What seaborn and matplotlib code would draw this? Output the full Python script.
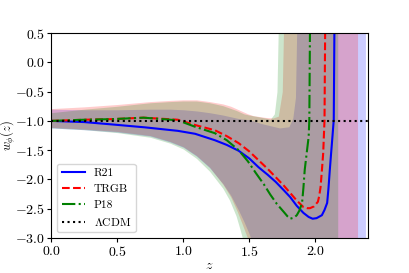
import matplotlib
matplotlib.use("Agg")
import matplotlib.pyplot as plt
import seaborn as sns

# --- bands (lower / upper edges of the reconstructed w_phi(z)) ---
z_band_r21 = [0.0, 0.25, 0.5, 0.75, 0.9, 1.0, 1.1, 1.2, 1.3, 1.36, 1.42, 1.46, 1.5, 1.54, 1.6, 1.73, 1.8, 1.83, 1.85, 1.86, 2.38]
lo_band_r21 = [-1.12, -1.15, -1.19, -1.26, -1.36, -1.45, -1.60, -1.80, -2.07, -2.27, -2.53, -2.72, -2.93, -3.2, -3.5, -3.5, -3.5, -3.5, -3.5, -3.5, -3.5]
hi_band_r21 = [-0.80, -0.81, -0.81, -0.80, -0.80, -0.81, -0.83, -0.86, -0.90, -0.93, -0.96, -0.97, -0.98, -1.01, -1.05, -1.12, -1.10, -0.95, -0.6, 0.6, 0.6]

z_band_trgb = [0.0, 0.25, 0.5, 0.75, 0.9, 1.0, 1.1, 1.2, 1.3, 1.36, 1.41, 1.45, 1.49, 1.53, 1.62, 1.68, 1.72, 1.75, 1.76, 2.32]
lo_band_trgb = [-1.11, -1.14, -1.18, -1.25, -1.35, -1.44, -1.59, -1.79, -2.08, -2.30, -2.55, -2.78, -3.02, -3.3, -3.5, -3.5, -3.5, -3.5, -3.5, -3.5]
hi_band_trgb = [-0.79, -0.76, -0.72, -0.67, -0.65, -0.64, -0.64, -0.67, -0.71, -0.75, -0.80, -0.84, -0.88, -0.91, -0.94, -0.95, -0.92, -0.5, 0.6, 0.6]

z_band_p18 = [0.0, 0.25, 0.5, 0.75, 0.9, 1.0, 1.1, 1.2, 1.3, 1.35, 1.4, 1.43, 1.46, 1.5, 1.62, 1.66, 1.69, 1.71, 1.72, 2.17]
lo_band_p18 = [-1.12, -1.15, -1.20, -1.28, -1.38, -1.48, -1.64, -1.86, -2.15, -2.35, -2.62, -2.85, -3.1, -3.5, -3.5, -3.5, -3.5, -3.5, -3.5, -3.5]
hi_band_p18 = [-0.86, -0.80, -0.75, -0.69, -0.67, -0.66, -0.66, -0.69, -0.74, -0.78, -0.82, -0.85, -0.88, -0.90, -0.95, -0.97, -0.88, -0.5, 0.6, 0.6]

# --- mean curves ---
z_r21 = [0.0, 0.25, 0.46, 0.71, 0.96, 1.09, 1.24, 1.33, 1.42, 1.5, 1.57, 1.64, 1.70, 1.76, 1.81, 1.86, 1.91, 1.95, 1.98, 2.01,
         2.05, 2.07, 2.09, 2.10, 2.11, 2.12, 2.13, 2.14, 2.145]
w_r21 = [-1.0, -1.02, -1.06, -1.11, -1.17, -1.22, -1.33, -1.41, -1.51, -1.64, -1.79, -1.92, -2.04, -2.18, -2.30, -2.45, -2.57, -2.64, -2.67, -2.66,
         -2.61, -2.52, -2.40, -2.15, -1.84, -1.55, -1.27, -0.98, 0.6]

z_trgb = [0.0, 0.25, 0.46, 0.7, 0.96, 1.09, 1.24, 1.33, 1.42, 1.5, 1.57, 1.64, 1.70, 1.76, 1.81, 1.86, 1.91, 1.94, 1.96, 1.99,
          2.02, 2.03, 2.04, 2.05, 2.06, 2.07, 2.075]
w_trgb = [-1.0, -0.98, -0.97, -0.945, -0.98, -1.07, -1.16, -1.26, -1.38, -1.52, -1.67, -1.82, -1.96, -2.10, -2.23, -2.36, -2.47, -2.49, -2.49, -2.46,
          -2.38, -2.28, -2.13, -1.85, -1.55, -0.98, 0.6]

z_p18 = [0.0, 0.25, 0.46, 0.7, 0.96, 1.09, 1.24, 1.33, 1.42, 1.49, 1.55, 1.61, 1.66, 1.71, 1.76, 1.79, 1.81, 1.84, 1.86, 1.88,
         1.90, 1.91, 1.92, 1.935, 1.95, 1.955, 1.96]
w_p18 = [-1.0, -0.98, -0.97, -0.945, -0.99, -1.10, -1.21, -1.33, -1.50, -1.69, -1.89, -2.08, -2.26, -2.42, -2.55, -2.63, -2.67, -2.65, -2.61, -2.53,
         -2.40, -2.15, -1.84, -1.55, -1.27, -0.98, 0.6]

z_lcdm = [0.0, 2.4]
w_lcdm = [-1.0, -1.0]

plt.rcParams["font.family"] = "serif"
plt.rcParams["font.serif"] = ["cmr10"]
plt.rcParams["mathtext.fontset"] = "cm"
plt.rcParams["axes.formatter.use_mathtext"] = True
plt.rcParams["font.size"] = 10

fig = plt.figure(figsize=(4.09, 2.73), dpi=100)
ax = fig.add_axes([0.125, 0.128, 0.775, 0.751])

ax.fill_between(z_band_r21, lo_band_r21, hi_band_r21, color="blue", alpha=0.2, lw=0)
ax.fill_between(z_band_trgb, lo_band_trgb, hi_band_trgb, color="red", alpha=0.2, lw=0)
ax.fill_between(z_band_p18, lo_band_p18, hi_band_p18, color="green", alpha=0.2, lw=0)

sns.lineplot(x=z_r21, y=w_r21, ax=ax, color="blue", lw=1.5, ls="-", sort=False, estimator=None, label="R21")
sns.lineplot(x=z_trgb, y=w_trgb, ax=ax, color="red", lw=1.5, ls="--", sort=False, estimator=None, label="TRGB")
sns.lineplot(x=z_p18, y=w_p18, ax=ax, color="green", lw=1.5, ls="-.", sort=False, estimator=None, label="P18")
sns.lineplot(x=z_lcdm, y=w_lcdm, ax=ax, color="black", lw=1.5, ls=":", sort=False, estimator=None, label=r"$\Lambda$CDM")

ax.set_xlim(0, 2.4)
ax.set_ylim(-3.0, 0.5)
ax.set_xticks([0.0, 0.5, 1.0, 1.5, 2.0])
ax.set_yticks([-3.0, -2.5, -2.0, -1.5, -1.0, -0.5, 0.0, 0.5])
ax.tick_params(length=3, pad=2)
ax.tick_params(axis="y", pad=1.2)
ax.set_xlabel(r"$z$", labelpad=1)
ax.set_ylabel(r"$w_\phi(z)$", fontsize=9)
ax.yaxis.set_label_coords(-0.103, 0.5)
ax.legend(loc="lower left", fontsize=8.3)

fig.savefig("out.png", dpi=100)
